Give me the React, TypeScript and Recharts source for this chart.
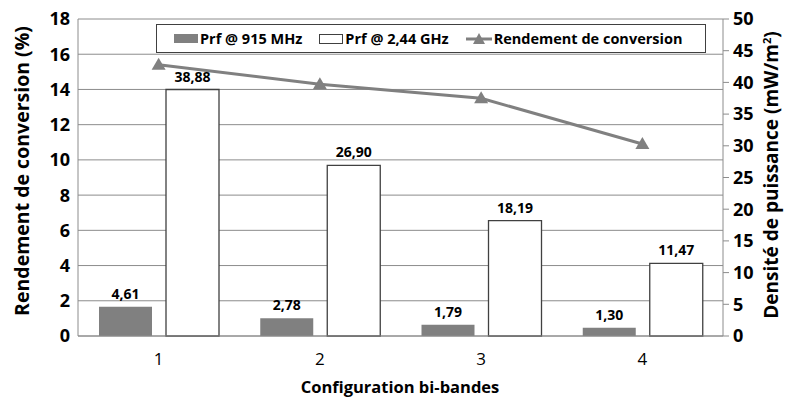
import React from 'react';
import {
  ComposedChart,
  Bar,
  Line,
  XAxis,
  YAxis,
  CartesianGrid,
  LabelList,
  Label,
} from 'recharts';

// configuration bi-bandes
const categories = ['1', '2', '3', '4'];
// densité de puissance (mW/m²)
const prf915 = [4.61, 2.78, 1.79, 1.3];
const prf244 = [38.88, 26.9, 18.19, 11.47];
// rendement de conversion (%)
const rendement = [15.4, 14.3, 13.5, 10.9];

const leftTicks = [0, 2, 4, 6, 8, 10, 12, 14, 16, 18];
const rightTicks = [0, 5, 10, 15, 20, 25, 30, 35, 40, 45, 50];

const data = categories.map((c, i) => ({
  config: c,
  prf915: prf915[i],
  prf244: prf244[i],
  rendement: rendement[i],
}));

const GRAY = '#808080';
const AXIS = '#8c8c8c';
const FONT = '"Open Sans", sans-serif';

const fmt = (v: number) => Number(v).toFixed(2).replace('.', ',');

function Triangle({ cx, cy }: { cx?: number; cy?: number }) {
  if (cx == null || cy == null) return null;
  return (
    <polygon
      points={`${cx},${cy - 7} ${cx + 7},${cy + 5} ${cx - 7},${cy + 5}`}
      fill={GRAY}
    />
  );
}

// legend drawn as an overlay so it doesn't eat plot height
function LegendBox() {
  const item = { display: 'flex', alignItems: 'center', whiteSpace: 'nowrap' as const };
  return (
    <div
      style={{
        position: 'absolute',
        top: 24,
        left: 156,
        width: 550,
        border: '1.5px solid #404040',
        background: '#fff',
        height: 29,
        boxSizing: 'border-box',
        display: 'flex',
        alignItems: 'center',
        paddingLeft: 17,
        fontFamily: FONT,
        fontWeight: 700,
        fontSize: 14.5,
        color: '#000',
      }}
    >
      <div style={item}>
        <span style={{ width: 24, height: 9, background: GRAY, marginRight: 2 }} />
        Prf @ 915 MHz
      </div>
      <div style={{ ...item, marginLeft: 17 }}>
        <span
          style={{
            width: 22,
            height: 8,
            background: '#fff',
            border: '1px solid #404040',
            marginRight: 2,
          }}
        />
        Prf @ 2,44 GHz
      </div>
      <div style={{ ...item, marginLeft: 17 }}>
        <svg width={26} height={14} style={{ marginRight: 2 }}>
          <line x1={0} y1={7} x2={26} y2={7} stroke={GRAY} strokeWidth={3} />
          <polygon points="13,1 19,12 7,12" fill={GRAY} />
        </svg>
        Rendement de conversion
      </div>
    </div>
  );
}

export default function App() {
  return (
    <div
      style={{
        position: 'absolute',
        top: 0,
        left: 0,
        width: 787,
        height: 399,
        background: '#fff',
        fontFamily: FONT,
      }}
    >
      <ComposedChart
        width={787}
        height={399}
        data={data}
        margin={{ top: 19, right: 0, left: 0, bottom: 0 }}
        barGap={14}
      >
        <CartesianGrid yAxisId="left" vertical={false} stroke={AXIS} strokeWidth={1} />
        <XAxis
          dataKey="config"
          height={63}
          axisLine={{ stroke: AXIS }}
          tickLine={false}
          tickMargin={11}
          tick={{ fontSize: 17, fill: '#000', fontFamily: FONT }}
        >
          <Label
            content={() => (
              <text
                x={400}
                y={393}
                textAnchor="middle"
                fontSize={16.5}
                fontWeight={700}
                fill="#000"
                fontFamily={FONT}
              >
                Configuration bi-bandes
              </text>
            )}
          />
        </XAxis>
        <YAxis
          yAxisId="left"
          width={78}
          domain={[0, 18]}
          ticks={leftTicks}
          interval={0}
          axisLine={{ stroke: AXIS }}
          tickLine={false}
          tick={{ fontSize: 18, fontWeight: 700, fill: '#000', fontFamily: FONT }}
        >
          <Label
            content={() => (
              <text
                x={0}
                y={0}
                transform="translate(29,171) rotate(-90)"
                textAnchor="middle"
                fontSize={19.5}
                fontWeight={700}
                fill="#000"
                fontFamily={FONT}
              >
                Rendement de conversion (%)
              </text>
            )}
          />
        </YAxis>
        <YAxis
          yAxisId="right"
          orientation="right"
          width={64}
          domain={[0, 50]}
          ticks={rightTicks}
          interval={0}
          axisLine={{ stroke: AXIS }}
          tickLine={{ stroke: AXIS }}
          tickMargin={4}
          tick={{ fontSize: 18, fontWeight: 700, fill: '#000', fontFamily: FONT, textAnchor: 'start' }}
        >
          <Label
            content={() => (
              <text
                x={0}
                y={0}
                transform="translate(778,175) rotate(-90)"
                textAnchor="middle"
                fontSize={19}
                fontWeight={700}
                fill="#000"
                fontFamily={FONT}
              >
                Densité de puissance (mW/m
                <tspan fontSize={11} dy={-7}>2</tspan>
                <tspan dy={7}>)</tspan>
              </text>
            )}
          />
        </YAxis>
        <Bar yAxisId="right" dataKey="prf915" fill={GRAY} barSize={53} isAnimationActive={false}>
          <LabelList
            dataKey="prf915"
            position="top"
            offset={8}
            formatter={(v: any) => fmt(v)}
            style={{ fontSize: 14, fontWeight: 700, fill: '#000', fontFamily: FONT }}
          />
        </Bar>
        <Bar
          yAxisId="right"
          dataKey="prf244"
          fill="#fff"
          stroke="#404040"
          strokeWidth={1.3}
          barSize={53}
          isAnimationActive={false}
        >
          <LabelList
            dataKey="prf244"
            position="top"
            offset={8}
            formatter={(v: any) => fmt(v)}
            style={{ fontSize: 14, fontWeight: 700, fill: '#000', fontFamily: FONT }}
          />
        </Bar>
        <Line
          yAxisId="left"
          dataKey="rendement"
          stroke={GRAY}
          strokeWidth={3}
          dot={<Triangle />}
          activeDot={false}
          isAnimationActive={false}
        />
      </ComposedChart>
      <LegendBox />
    </div>
  );
}
